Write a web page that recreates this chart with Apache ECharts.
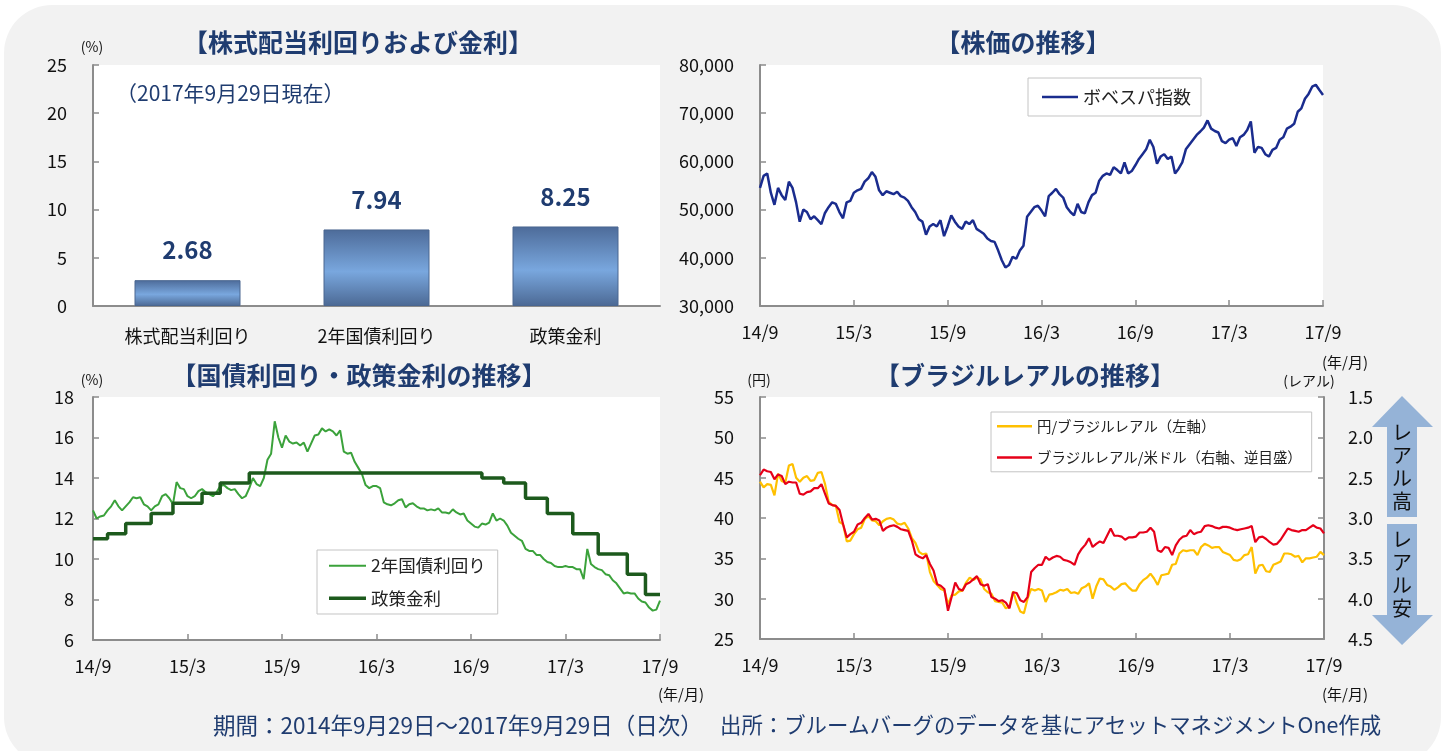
<!DOCTYPE html>
<html><head><meta charset="utf-8">
<script src="https://cdn.jsdelivr.net/npm/echarts@6/dist/echarts.min.js"></script>
<style>
html,body{margin:0;padding:0;background:#fff;}
#bg{position:absolute;left:4px;top:5px;width:1437px;height:760px;background:#f2f2f2;border-radius:48px;}
#chart{position:absolute;left:0;top:0;width:1444px;height:751px;}
</style></head><body><div id="bg"></div><div id="chart"></div>
<script>
// ---- data ----
const barCategories = ['株式配当利回り', '2年国債利回り', '政策金利'];
const barValues = [2.68, 7.94, 8.25];
const dateTickLabels = ['14/9', '15/3', '15/9', '16/3', '16/9', '17/3', '17/9'];

// weekly samples, 2014/9/29 - 2017/9/29
const bovespa = [
54500,57000,57500,53500,51000,54500,53000,52000,55800,54500,
51500,47500,50000,49500,48000,48600,47800,47000,49300,50500,
51500,51200,49500,48200,51500,51800,53500,54000,54300,55800,
56500,57800,56800,54000,53000,53800,53500,53200,53700,52800,
52500,51800,50500,49500,48000,47500,44800,46500,47000,46500,
47800,44500,46500,48800,47500,46500,46000,47500,47000,47800,
46000,45500,45000,44000,43500,43300,41500,39500,38000,38500,
40200,39800,41500,42500,48500,49500,50500,50800,49800,48600,
52800,53500,54300,53200,52500,50500,49500,48800,51200,49500,
49200,51500,53000,53500,56000,57000,57500,57200,58800,58200,
57500,59800,57500,58000,59200,60500,61500,62500,64500,63000,
59500,61000,61500,60500,61000,57500,58500,59800,62500,63500,
64500,65500,66200,67000,68500,66800,66300,66000,64200,63800,
64500,64800,63200,65000,65500,66500,68300,61800,63000,62800,
61500,61000,62400,62800,64500,65000,66800,67200,67800,70300,
71000,73000,74000,75500,75900,74800,73800
];
const bond2y = [
12.4,12.0,12.1,12.15,12.4,12.6,12.9,12.6,12.4,12.6,
12.8,13.05,13.0,13.05,12.7,12.6,12.4,12.6,12.7,13.1,
13.2,13.0,12.7,13.8,13.5,13.45,13.1,13.0,13.1,13.35,
13.45,13.3,13.2,13.1,13.3,13.6,13.65,13.5,13.4,13.45,
13.2,13.0,13.1,13.5,14.0,13.7,13.6,14.0,14.9,15.2,
16.8,16.0,15.5,16.1,15.8,15.7,15.75,15.6,15.75,15.3,
15.7,16.1,16.15,16.45,16.3,16.4,16.3,16.1,16.35,15.3,
15.2,15.25,14.8,14.5,14.2,13.65,13.5,13.6,13.6,13.5,
12.8,12.7,12.65,12.75,12.9,12.95,12.55,12.7,12.75,12.6,
12.5,12.5,12.4,12.45,12.4,12.5,12.3,12.3,12.25,12.45,
12.3,12.2,12.25,11.9,11.75,11.6,11.55,11.75,11.7,11.8,
12.25,11.9,12.0,11.9,11.65,11.3,11.15,11.0,10.9,10.5,
10.4,10.4,10.2,10.2,10.0,9.85,9.8,9.65,9.6,9.6,
9.65,9.6,9.6,9.5,9.5,9.0,10.5,9.75,9.6,9.5,
9.45,9.25,9.2,8.95,8.8,8.55,8.3,8.35,8.3,8.3,
8.05,7.9,7.85,7.6,7.45,7.5,7.95
];
// policy rate change points (week index, rate)
const policyWeek = [0, 4, 9, 16, 22, 30, 35, 43, 107, 113, 119, 125, 132, 139, 147, 152, 156];
const policyRate = [11.00, 11.25, 11.75, 12.25, 12.75, 13.25, 13.75, 14.25, 14.00, 13.75, 13.00, 12.25, 11.25, 10.25, 9.25, 8.25, 8.25];
const jpyBrl = [
44.5,43.8,44.2,44.1,42.8,45.5,44.6,44.4,46.5,46.7,
45.0,44.5,45.0,45.2,44.6,44.7,45.6,45.7,44.2,42.0,
41.6,41.5,39.5,39.2,37.1,37.2,38.0,38.6,38.8,39.9,
40.2,39.7,39.6,39.1,39.6,39.9,40.0,39.8,39.3,39.2,
39.4,38.7,37.5,36.9,35.8,35.5,35.6,33.3,32.2,31.7,
31.2,31.0,29.3,30.4,30.5,30.9,31.0,32.0,32.6,32.3,
32.6,32.4,31.2,30.8,30.6,29.7,29.6,29.5,28.8,29.0,
30.9,29.5,28.4,28.2,30.0,31.2,31.0,31.2,31.0,29.6,
30.5,30.6,30.8,31.1,31.0,31.2,30.7,30.8,30.6,31.3,
31.5,31.9,30.0,31.5,32.5,32.4,31.7,31.5,31.1,31.4,
31.8,31.9,31.4,31.0,31.0,31.8,32.3,32.6,33.1,32.5,
31.7,32.9,33.0,33.1,34.2,34.3,35.6,36.0,35.9,36.0,
36.0,35.4,36.4,36.8,36.6,36.3,36.4,36.4,35.8,35.6,
35.4,34.8,34.7,34.9,35.4,35.5,36.4,33.1,34.1,34.2,
33.4,33.3,34.2,34.4,34.6,35.6,35.6,35.5,35.2,35.3,
34.5,35.0,35.0,35.1,35.2,35.8,35.4
];
const brlUsd = [
2.47,2.40,2.42,2.43,2.52,2.46,2.48,2.58,2.55,2.56,
2.56,2.70,2.71,2.68,2.67,2.63,2.63,2.58,2.70,2.82,
2.84,2.85,2.90,3.08,3.24,3.20,3.17,3.08,3.06,3.00,
2.95,3.02,3.01,3.03,3.16,3.12,3.10,3.09,3.11,3.14,
3.15,3.16,3.28,3.45,3.48,3.50,3.46,3.57,3.65,3.82,
3.84,3.88,4.15,3.98,3.80,3.88,3.90,3.82,3.80,3.76,
3.72,3.82,3.84,3.82,3.98,4.00,4.03,4.02,4.05,4.12,
3.92,3.93,4.02,4.04,3.98,3.67,3.62,3.58,3.58,3.48,
3.52,3.49,3.47,3.48,3.52,3.53,3.55,3.58,3.45,3.38,
3.33,3.25,3.36,3.32,3.29,3.31,3.22,3.13,3.22,3.22,
3.23,3.27,3.24,3.24,3.23,3.18,3.18,3.17,3.12,3.17,
3.40,3.42,3.36,3.37,3.46,3.34,3.27,3.23,3.22,3.15,
3.20,3.18,3.17,3.10,3.09,3.10,3.12,3.13,3.11,3.11,
3.12,3.14,3.15,3.14,3.13,3.12,3.10,3.30,3.24,3.23,
3.26,3.30,3.33,3.32,3.27,3.20,3.13,3.15,3.16,3.17,
3.15,3.15,3.12,3.09,3.12,3.13,3.19
];

// ---- chart ----
const FONT = "'Noto Sans CJK JP', 'Noto Sans', sans-serif";
const NAVY = '#1f3c70';
const AX = '#8c8c8c';
const TICK_EVERY = 26;
const weekCats = bovespa.map((_, i) => 'w' + i);
const LINE_ICON_THIN = 'path://M0,0L36,0L36,2L0,2Z';
const LINE_ICON_MID = 'path://M0,0L36,0L36,2.6L0,2.6Z';
const LINE_ICON_THICK = 'path://M0,0L36,0L36,3.6L0,3.6Z';

function timeXAxis(grid) {
  return {
    gridIndex: grid, type: 'category', data: weekCats, boundaryGap: false,
    axisLine: { lineStyle: { color: AX, width: 2 } },
    axisTick: { inside: true, length: 6, interval: (i) => i % TICK_EVERY === 0, lineStyle: { color: AX, width: 1.5 } },
    axisLabel: { interval: (i) => i % TICK_EVERY === 0, formatter: (v, i) => dateTickLabels[i / TICK_EVERY] || '',
      fontSize: 18, color: '#111', fontFamily: FONT, margin: 17 },
    splitLine: { show: false }
  };
}
function valYAxis(grid, min, max, interval, margin, extra) {
  return Object.assign({
    gridIndex: grid, type: 'value', min, max, interval,
    axisLine: { show: true, lineStyle: { color: AX, width: 2 } },
    axisTick: { show: true, inside: true, length: 6, lineStyle: { color: AX, width: 1.5 } },
    axisLabel: { fontSize: 18, color: '#111', fontFamily: FONT, margin },
    splitLine: { show: false }
  }, extra || {});
}
function txt(x, y, text, size, opts) {
  opts = opts || {};
  return { type: 'text', x: x, y: y, silent: true, z: 100,
    style: { text: text, fontSize: size, fontFamily: FONT, fontWeight: opts.bold ? 'bold' : 'normal',
      fill: opts.color || '#111', align: opts.align || 'center', verticalAlign: opts.va || 'middle',
      lineHeight: opts.lineHeight } };
}

const legendCommon = {
  backgroundColor: '#fff', borderColor: '#c4c4c4', borderWidth: 1, borderRadius: 0, selectedMode: false
};

const option = {
  animation: false,
  backgroundColor: 'transparent',
  grid: [
    { left: 93, top: 65, width: 567, height: 241, show: true, backgroundColor: '#fff', borderWidth: 0 },
    { left: 760, top: 65, width: 563, height: 241, show: true, backgroundColor: '#fff', borderWidth: 0 },
    { left: 93, top: 397, width: 567, height: 243, show: true, backgroundColor: '#fff', borderWidth: 0 },
    { left: 760, top: 397, width: 564, height: 242, show: true, backgroundColor: '#fff', borderWidth: 0 }
  ],
  xAxis: [
    { gridIndex: 0, type: 'category', data: barCategories,
      axisLine: { lineStyle: { color: AX, width: 2 } },
      axisTick: { inside: true, length: 6, lineStyle: { color: AX, width: 1.5 } },
      axisLabel: { fontSize: 18, color: '#111', fontFamily: FONT, margin: 21 } },
    timeXAxis(1), timeXAxis(2), timeXAxis(3)
  ],
  yAxis: [
    valYAxis(0, 0, 25, 5, 26),
    valYAxis(1, 30000, 80000, 10000, 26, { axisLabel: { fontSize: 18, color: '#111', fontFamily: FONT, margin: 26,
      formatter: (v) => String(v).replace(/\B(?=(\d{3})+(?!\d))/g, ',') } }),
    valYAxis(2, 6, 18, 2, 19),
    valYAxis(3, 25, 55, 5, 26),
    valYAxis(3, 1.5, 4.5, 0.5, 24, { position: 'right', inverse: true,
      axisLabel: { fontSize: 18, color: '#111', fontFamily: FONT, margin: 24, formatter: (v) => v.toFixed(1) } })
  ],
  legend: [
    Object.assign({}, legendCommon, { data: [{ name: 'ボベスパ指数', icon: LINE_ICON_MID }], left: 1028, top: 78,
      padding: [10, 10, 10, 14], itemWidth: 36, itemHeight: 14,
      textStyle: { fontSize: 18, fontFamily: FONT, color: '#222' } }),
    Object.assign({}, legendCommon, { data: [{ name: '2年国債利回り', icon: LINE_ICON_THIN }, { name: '政策金利', icon: LINE_ICON_THICK }],
      orient: 'vertical', left: 317, top: 550,
      padding: [7, 12, 7, 12], itemGap: 15, itemWidth: 37, itemHeight: 14,
      textStyle: { fontSize: 17.5, fontFamily: FONT, color: '#222' } }),
    Object.assign({}, legendCommon, { data: [{ name: '円/ブラジルレアル（左軸）', icon: LINE_ICON_MID },
        { name: 'ブラジルレアル/米ドル（右軸、逆目盛）', icon: LINE_ICON_MID }], orient: 'vertical',
      left: 991, top: 412, padding: [7, 10, 7, 6], itemGap: 17, itemWidth: 35, itemHeight: 14,
      textStyle: { fontSize: 14.4, fontFamily: FONT, color: '#222' } })
  ],
  series: [
    { type: 'bar', xAxisIndex: 0, yAxisIndex: 0, data: barValues, barWidth: 106,
      itemStyle: { borderColor: '#4a6690', borderWidth: 1,
        color: { type: 'linear', x: 0, y: 0, x2: 0, y2: 1, colorStops: [
          { offset: 0, color: '#4d6b99' }, { offset: 0.55, color: '#79a7de' }, { offset: 1, color: '#4c6994' } ] } },
      label: { show: true, position: 'top', distance: 18, formatter: (p) => p.value.toFixed(2),
        fontSize: 24, fontWeight: 'bold', color: NAVY, fontFamily: FONT } },
    { name: 'ボベスパ指数', type: 'line', xAxisIndex: 1, yAxisIndex: 1, data: bovespa, symbol: 'none',
      lineStyle: { color: '#1a2c8e', width: 2.5 }, itemStyle: { color: '#1a2c8e' } },
    { name: '2年国債利回り', type: 'line', xAxisIndex: 2, yAxisIndex: 2, data: bond2y, symbol: 'none',
      lineStyle: { color: '#3ba23b', width: 2 }, itemStyle: { color: '#3ba23b' } },
    { name: '政策金利', type: 'line', xAxisIndex: 2, yAxisIndex: 2, step: 'end', symbol: 'none',
      data: policyWeek.map((w, i) => [w, policyRate[i]]),
      lineStyle: { color: '#1d5a1d', width: 3.5 }, itemStyle: { color: '#1d5a1d' } },
    { name: '円/ブラジルレアル（左軸）', type: 'line', xAxisIndex: 3, yAxisIndex: 3, data: jpyBrl, symbol: 'none',
      lineStyle: { color: '#ffc000', width: 2.2 }, itemStyle: { color: '#ffc000' } },
    { name: 'ブラジルレアル/米ドル（右軸、逆目盛）', type: 'line', xAxisIndex: 3, yAxisIndex: 4, data: brlUsd, symbol: 'none',
      lineStyle: { color: '#e60019', width: 2.2 }, itemStyle: { color: '#e60019' } }
  ],
  graphic: [
    txt(358, 42, '【株式配当利回りおよび金利】', 25, { bold: true, color: NAVY }),
    txt(1023, 42, '【株価の推移】', 25, { bold: true, color: NAVY }),
    txt(359, 375, '【国債利回り・政策金利の推移】', 25, { bold: true, color: NAVY }),
    txt(1025, 375, '【ブラジルレアルの推移】', 25, { bold: true, color: NAVY }),
    txt(116, 93, '（2017年9月29日現在）', 21, { align: 'left', color: NAVY }),
    txt(92, 47, '(%)', 14),
    txt(92, 380, '(%)', 14),
    txt(759, 380, '(円)', 14),
    txt(1309, 381, '(レアル)', 14),
    txt(1345, 362, '(年/月)', 15),
    txt(681, 694, '(年/月)', 15),
    txt(1345, 694, '(年/月)', 15),
    txt(213, 725, '期間：2014年9月29日～2017年9月29日（日次）', 22.5, { align: 'left', color: NAVY }),
    txt(720, 725, '出所：ブルームバーグのデータを基にアセットマネジメントOne作成', 21.4, { align: 'left', color: NAVY }),
    { type: 'polygon', silent: true, z: 90, shape: { points: [[1402,396],[1433,427],[1417,427],[1417,517],[1387,517],[1387,427],[1372,427]] },
      style: { fill: '#95b3d7' } },
    { type: 'polygon', silent: true, z: 90, shape: { points: [[1387,524],[1417,524],[1417,615],[1433,615],[1402,645],[1372,615],[1387,615]] },
      style: { fill: '#95b3d7' } },
    txt(1402, 421, 'レ\nア\nル\n高', 20, { va: 'top', lineHeight: 23 }),
    txt(1402, 528, 'レ\nア\nル\n安', 20, { va: 'top', lineHeight: 23 })
  ]
};

const chart = echarts.init(document.getElementById('chart'), null, { renderer: 'canvas' });
chart.setOption(option);
</script></body></html>
